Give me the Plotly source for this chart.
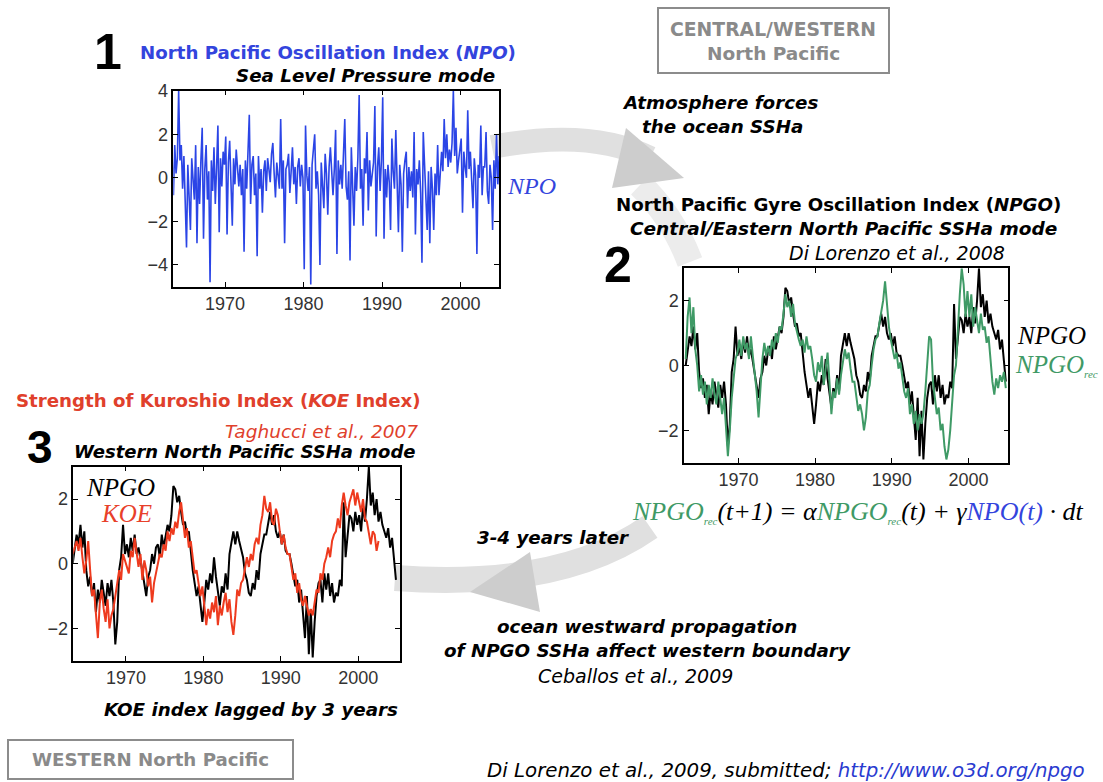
import plotly.graph_objects as go

W, H = 1103, 782

# ---------------- data ----------------
START_YEAR = 1963
NPO_STEPS = [1 / 12, 3 / 12, 5 / 12, 7 / 12, 9 / 12, 11 / 12]   # bi-monthly samples
QUARTERS = [0.125, 0.375, 0.625, 0.875]                         # quarterly samples

NPO = [
    0.3, 1.0, -0.8, 1.5, 0.2, 0.9,      # 1963
    4.0, 0.8, 1.5, -0.5, 1.0, -0.9,     # 1964
    -3.2, 0.6, -0.8, -2.4, 0.9, -0.3,   # 1965
    -1.0, 1.5, -3.0, 0.5, -1.2, 0.8,    # 1966
    2.3, -2.8, 0.4, 1.5, -1.0, 0.3,     # 1967
    -4.8, 0.8, -0.6, 1.4, -1.2, 0.5,    # 1968
    2.4, -2.5, 0.9, -0.4, 1.2, 0.6,     # 1969
    1.9, -2.6, 0.7, 1.7, -0.5, -2.2,    # 1970
    0.9, -0.3, 1.3, 0.2, -0.4, 0.6,     # 1971
    -0.8, 0.4, -3.4, 0.8, -0.5, 1.2,    # 1972
    2.9, -1.2, 0.6, 1.0, -0.8, 0.2,     # 1973
    -3.6, 1.0, -0.5, 0.4, -1.6, 0.3,    # 1974
    0.8, -0.6, 0.9, 0.4, -0.2, 1.1,     # 1975
    1.6, 0.2, -0.9, 0.7, 0.1, -0.5,     # 1976
    2.7, -0.5, 0.8, -3.0, 0.4, 0.6,     # 1977
    1.1, -0.7, 0.3, 1.4, -0.3, 0.5,     # 1978
    -1.2, 0.5, 0.9, -0.4, 0.6, 0.0,     # 1979
    -4.2, 2.4, 0.1, -0.6, 0.5, -4.9,    # 1980
    0.6, 1.2, 2.0, -0.5, 0.3, -0.8,     # 1981
    -4.0, 0.7, -0.2, -1.4, 1.1, 0.2,    # 1982
    -1.7, 0.5, 1.4, 0.2, -0.8, 0.4,     # 1983
    2.2, -3.5, 0.8, -0.3, 0.6, -0.5,    # 1984
    1.2, 2.7, -0.4, -1.0, 0.3, -3.8,    # 1985
    1.4, -0.2, -2.2, 0.5, -0.6, 0.9,    # 1986
    3.8, -0.5, 0.4, -2.2, 0.9, 0.2,     # 1987
    2.1, -1.5, 0.8, -0.4, 0.3, 0.7,     # 1988
    3.3, -2.7, 0.5, 1.4, -0.6, 0.8,     # 1989
    3.7, -2.8, 0.4, -0.9, 0.6, -0.2,    # 1990
    -2.4, 1.8, 0.3, -0.5, 2.2, -0.4,    # 1991
    -2.5, 0.6, -0.3, -3.4, 0.2, 0.8,    # 1992
    1.2, -1.4, 0.5, -0.6, 0.3, -0.9,    # 1993
    2.1, -2.6, 0.4, -0.3, 0.8, -0.7,    # 1994
    -3.9, 2.1, 0.8, -0.4, -2.4, 0.3,    # 1995
    -3.0, 0.5, -0.5, -2.4, 0.2, -0.8,   # 1996
    1.5, -0.8, 0.6, 1.2, 0.3, 2.7,      # 1997
    0.9, 2.0, 0.5, 1.3, 0.7, 1.6,       # 1998
    4.0, 1.0, 2.3, 0.2, 0.8, 1.5,       # 1999
    1.8, -1.6, 1.2, 0.5, 0.0, 3.1,      # 2000
    0.4, 1.2, -0.3, -1.4, 0.9, 0.1,     # 2001
    -3.5, 0.6, 0.0, 2.4, -0.8, 0.5,     # 2002
    0.5, 2.1, -0.6, -1.2, 0.6, 0.0,     # 2003
    -2.4, 0.8, -0.5, 2.0, -0.3, 1.0,    # 2004
]

NPGO = [
    0.0, 0.4, 0.9, 0.6,      # 1963
    1.2, 0.5, 1.0, -0.2,     # 1964
    -0.7, -0.4, -1.0, -0.6,  # 1965
    -1.5, -0.8, -1.2, -0.5,  # 1966
    -0.9, -1.3, -0.6, -1.0,  # 1967
    -0.5, -1.2, -2.5, -1.8,  # 1968
    -0.2, 0.2, 1.2, 0.3,     # 1969
    0.6, 0.2, 0.8, 0.4,      # 1970
    0.9, 0.3, 0.5, 0.1,      # 1971
    -0.3, -0.6, -1.0, -0.4,  # 1972
    -0.2, 0.3, 0.0, 0.5,     # 1973
    0.6, 0.2, 0.9, 0.5,      # 1974
    0.8, 1.2, 1.0, 1.5,      # 1975
    2.4, 2.3, 1.9, 2.1,      # 1976
    1.6, 1.2, 1.3, 0.9,      # 1977
    1.0, 0.3, -0.2, -0.6,    # 1978
    -1.0, -0.7, -1.3, -1.8,  # 1979
    -1.2, -0.5, -0.8, -0.3,  # 1980
    -0.6, 0.2, -0.4, -0.9,   # 1981
    -1.3, -0.7, -0.9, -0.3,  # 1982
    -0.8, 0.3, 0.6, 1.0,     # 1983
    0.6, 1.0, 0.7, 0.4,      # 1984
    0.2, -0.3, -0.5, -0.9,   # 1985
    -1.0, -0.6, -0.8, -0.2,  # 1986
    -0.5, 0.3, 0.6, 0.9,     # 1987
    0.9, 1.3, 1.6, 1.2,      # 1988
    1.5, 1.0, 0.8, 1.0,      # 1989
    0.6, 0.9, 0.4, 0.3,      # 1990
    0.3, 0.0, -0.3, -0.7,    # 1991
    -0.5, -1.2, -0.8, -1.5,  # 1992
    -2.3, -1.0, -2.8, -1.4,  # 1993
    -2.9, -1.8, -1.0, -0.6,  # 1994
    -0.5, -1.2, -0.3, -0.8,  # 1995
    -0.3, -1.0, -0.6, -1.2,  # 1996
    -0.9, -1.0, -0.5, -0.7,  # 1997
    1.9, 0.2, 1.0, 1.5,      # 1998
    1.4, 1.0, 1.6, 1.2,      # 1999
    1.5, 1.0, 1.8, 1.3,      # 2000
    2.0, 3.0, 1.8, 2.2,      # 2001
    1.5, 2.0, 1.3, 1.6,      # 2002
    1.2, 1.0, 0.8, 1.1,      # 2003
    0.5, 0.8, 0.2, -0.5,     # 2004
]

NPGO_REC = [
    0.2, 1.5, 2.1, 1.0,      # 1963
    1.8, 0.5, 0.0, -0.8,     # 1964
    -0.3, -0.9, -0.5, -1.2,  # 1965
    -0.6, -1.0, -0.4, -0.9,  # 1966
    -1.2, -0.5, -1.0, -1.5,  # 1967
    -1.0, -2.0, -2.8, -2.0,  # 1968
    -1.0, -0.4, 0.2, 0.4,    # 1969
    0.8, 0.3, 0.9, 0.5,      # 1970
    0.7, 0.2, 0.9, 0.3,      # 1971
    -0.2, -0.8, -1.6, -0.6,  # 1972
    0.2, 0.7, 0.3, 0.6,      # 1973
    0.3, 0.8, 0.5, 1.0,      # 1974
    0.7, 1.2, 1.1, 1.6,      # 1975
    2.2, 1.8, 2.0, 1.5,      # 1976
    1.9, 1.3, 1.0, 0.8,      # 1977
    0.6, 0.8, 0.4, 0.9,      # 1978
    0.5, 0.6, 0.2, -0.3,     # 1979
    -0.5, 0.1, -0.2, 0.3,    # 1980
    -0.6, -0.1, 0.4, -0.5,   # 1981
    -1.5, -0.8, -1.0, -0.4,  # 1982
    -0.9, -0.3, 0.1, 0.5,    # 1983
    0.2, 0.4, -0.1, -0.5,    # 1984
    -0.5, -1.0, -1.4, -1.2,  # 1985
    -1.5, -2.0, -1.6, -0.8,  # 1986
    -0.6, 0.0, 0.5, 0.8,     # 1987
    0.9, 1.3, 1.6, 2.0,      # 1988
    2.6, 1.8, 1.2, 0.8,      # 1989
    0.5, 0.2, 0.4, -0.1,     # 1990
    0.1, -0.4, -0.8, -1.0,   # 1991
    -0.7, -1.5, -1.2, -1.8,  # 1992
    -1.4, -2.0, -1.5, -1.8,  # 1993
    -1.5, -0.8, 0.2, 0.9,    # 1994
    0.8, -0.5, -1.0, -1.5,   # 1995
    -1.3, -2.0, -1.8, -2.5,  # 1996
    -2.9, -2.6, -2.0, -1.0,  # 1997
    -0.3, 0.0, 1.2, 2.2,     # 1998
    3.0, 2.5, 1.5, 2.3,      # 1999
    1.5, 2.2, 1.2, 1.8,      # 2000
    1.4, 1.0, 1.6, 1.1,      # 2001
    1.2, 0.7, 0.9, 0.2,      # 2002
    -0.5, -0.9, -0.4, -0.7,  # 2003
    -0.3, -0.5, -0.2, -0.7,  # 2004
]

KOE = [
    0.3, 0.5, 0.7, 0.4,      # 1963
    0.8, 0.2, -0.3, 0.1,     # 1964
    0.7, -0.2, -1.0, -0.8,   # 1965
    -1.6, -2.3, -1.2, -0.8,  # 1966
    -1.4, -1.8, -1.1, -2.0,  # 1967
    -1.6, -1.4, -1.0, -0.6,  # 1968
    -0.2, -0.5, 0.3, 0.1,    # 1969
    -0.1, -0.3, 0.4, 0.2,    # 1970
    0.8, 0.4, -0.1, 0.3,     # 1971
    -0.5, 0.1, -0.2, -0.7,   # 1972
    -0.4, -1.2, -0.6, -0.3,  # 1973
    0.0, 0.3, 0.2, 0.6,      # 1974
    0.4, 1.0, 0.7, 1.1,      # 1975
    0.9, 1.3, 1.1, 1.6,      # 1976
    1.9, 1.4, 0.8, 1.1,      # 1977
    0.5, 0.7, 0.1, -0.3,     # 1978
    -0.2, -0.6, -1.0, -0.7,  # 1979
    -1.3, -1.9, -1.4, -1.7,  # 1980
    -1.2, -1.5, -1.0, -1.9,  # 1981
    -1.3, -1.6, -1.2, -0.9,  # 1982
    -1.5, -1.1, -1.8, -2.2,  # 1983
    -1.6, -0.8, -1.0, -0.6,  # 1984
    -0.5, -0.2, 0.2, -0.1,   # 1985
    0.3, 0.1, 0.6, 0.8,      # 1986
    0.6, 1.2, 1.5, 2.1,      # 1987
    1.7, 1.6, 1.9, 1.3,      # 1988
    1.2, 1.7, 1.5, 1.0,      # 1989
    0.6, 0.9, 0.5, 0.3,      # 1990
    0.3, -0.1, -0.5, -0.3,   # 1991
    -0.9, -0.6, -1.1, -1.3,  # 1992
    -1.0, -1.3, -1.6, -1.4,  # 1993
    -1.6, -1.2, -0.8, -0.9,  # 1994
    -0.3, -0.5, 0.0, 0.2,    # 1995
    0.5, 0.2, 0.7, 0.9,      # 1996
    1.0, 1.4, 1.1, 1.8,      # 1997
    2.2, 1.8, 1.5, 1.9,      # 1998
    2.1, 2.3, 1.8, 2.2,      # 1999
    1.9, 1.6, 2.0, 1.4,      # 2000
    1.3, 0.9, 0.6, 1.0,      # 2001
    0.9, 0.4, 0.7,           # 2002
]

X_TICKS = [1970, 1980, 1990, 2000]
NPO_YTICKS = [-4, -2, 0, 2, 4]
NPGO_YTICKS = [-2, 0, 2]


def times(n, steps):
    k = len(steps)
    return [START_YEAR + i // k + steps[i % k] for i in range(n)]


# ---------------- helpers (pixel -> paper) ----------------
def px(x):
    return x / W


def py(y):
    return 1 - y / H


def pt(x, y):
    return f"{px(x):.5f},{py(y):.5f}"


SANS = "DejaVu Sans"
SERIF = "Liberation Serif"
NUM = "Liberation Sans"

BLUE_T = "#3344dd"
RED_T = "#e0402c"
GREEN = "#3f9a66"
GREY_T = "#8a8a8a"

fig = go.Figure()

fig.add_trace(go.Scatter(x=times(len(NPO), NPO_STEPS), y=NPO, mode="lines",
                         line=dict(color="#2b45e6", width=1.6),
                         xaxis="x", yaxis="y", showlegend=False))
fig.add_trace(go.Scatter(x=times(len(NPGO), QUARTERS), y=NPGO, mode="lines",
                         line=dict(color="black", width=2),
                         xaxis="x2", yaxis="y2", showlegend=False))
fig.add_trace(go.Scatter(x=times(len(NPGO_REC), QUARTERS), y=NPGO_REC, mode="lines",
                         line=dict(color=GREEN, width=2),
                         xaxis="x2", yaxis="y2", showlegend=False))
fig.add_trace(go.Scatter(x=times(len(NPGO), QUARTERS), y=NPGO, mode="lines",
                         line=dict(color="black", width=2),
                         xaxis="x3", yaxis="y3", showlegend=False))
fig.add_trace(go.Scatter(x=times(len(KOE), QUARTERS), y=KOE, mode="lines",
                         line=dict(color="#ee3a1e", width=2),
                         xaxis="x3", yaxis="y3", showlegend=False))

axis_style = dict(showline=True, linecolor="black", linewidth=1.5, mirror="allticks",
                  ticks="inside", ticklen=5, tickcolor="black", tickwidth=1,
                  showgrid=False, zeroline=False, automargin=False,
                  tickfont=dict(family=NUM, size=18, color="#333333"))

fig.update_layout(
    template="none",
    width=W, height=H,
    margin=dict(l=0, r=0, t=0, b=0, pad=0, autoexpand=False),
    paper_bgcolor="white", plot_bgcolor="white",
    xaxis=dict(domain=[px(173.3), px(499)], range=[1963.4, 2004.9],
               tickvals=X_TICKS, anchor="y", **axis_style),
    yaxis=dict(domain=[py(286.7), py(90.7)], range=[-5, 4],
               tickvals=NPO_YTICKS, anchor="x", **axis_style),
    xaxis2=dict(domain=[px(684), px(1008.3)], range=[1962.9, 2005.2],
                tickvals=X_TICKS, anchor="y2", **axis_style),
    yaxis2=dict(domain=[py(462.7), py(268.3)], range=[-3, 3],
                tickvals=NPGO_YTICKS, anchor="x2", **axis_style),
    xaxis3=dict(domain=[px(73.3), px(400)], range=[1963.2, 2005.4],
                tickvals=X_TICKS, anchor="y3", **axis_style),
    yaxis3=dict(domain=[py(660.7), py(466.7)], range=[-3, 3],
                tickvals=NPGO_YTICKS, anchor="x3", **axis_style),
)

shapes = []
# curved grey arrows (drawn below the plot areas)
shapes.append(dict(type="path", xref="paper", yref="paper", layer="below",
                   path=f"M {pt(492,147)} Q {pt(590,128)} {pt(650,158)}",
                   line=dict(color="#e0e0e0", width=24)))
shapes.append(dict(type="path", xref="paper", yref="paper", layer="below",
                   path=f"M {pt(640,185)} Q {pt(672,215)} {pt(690,262)}",
                   line=dict(color="#ececec", width=26)))
shapes.append(dict(type="path", xref="paper", yref="paper", layer="below",
                   path=f"M {pt(626,128)} L {pt(684,178)} L {pt(612,188)} Z",
                   fillcolor="#cdcdcd", line=dict(width=0)))

shapes.append(dict(type="path", xref="paper", yref="paper", layer="below",
                   path=f"M {pt(650,527)} Q {pt(560,590)} {pt(395,578)}",
                   line=dict(color="#e0e0e0", width=26)))
shapes.append(dict(type="path", xref="paper", yref="paper", layer="below",
                   path=f"M {pt(530,552)} L {pt(540,612)} L {pt(470,592)} Z",
                   fillcolor="#cdcdcd", line=dict(width=0)))

# grey region boxes
shapes.append(dict(type="rect", xref="paper", yref="paper",
                   x0=px(658), x1=px(889), y0=py(73), y1=py(8),
                   line=dict(color="#8c8c8c", width=2)))
shapes.append(dict(type="rect", xref="paper", yref="paper",
                   x0=px(8), x1=px(293), y0=py(779), y1=py(740),
                   line=dict(color="#8c8c8c", width=2)))

annotations = []


def txt(text, x, y, size, color="black", family=SANS, xanchor="center"):
    annotations.append(dict(text=text, x=px(x), y=py(y), xref="paper", yref="paper",
                            xanchor=xanchor, yanchor="middle", showarrow=False,
                            font=dict(family=family, size=size, color=color)))


BI = 18.3   # bold-italic caption size
IT = 19     # plain italic citation size
SUB = "<span style='font-size:11px'>rec</span>"

# panel 1
txt("<b>1</b>", 108, 52, 50, family=NUM)
txt("<b>North Pacific Oscillation Index (<i>NPO</i>)</b>", 328, 52, 18.2, color=BLUE_T)
txt("<b><i>Sea Level Pressure mode</i></b>", 497, 75, BI, xanchor="right")
txt("<i>NPO</i>", 505, 186, 24, color=BLUE_T, family=SERIF, xanchor="left")

# central/western box and forcing text
txt("<b>CENTRAL/WESTERN</b>", 773, 30, 18.8, color=GREY_T)
txt("<b>North Pacific</b>", 773, 53, 18.5, color=GREY_T)
txt("<b><i>Atmosphere forces</i></b>", 720, 103, BI)
txt("<b><i>the ocean SSHa</i></b>", 722, 126, BI)

# panel 2
txt("<b>North Pacific Gyre Oscillation Index (<i>NPGO</i>)</b>", 838, 204, 18.2)
txt("<b><i>Central/Eastern North Pacific SSHa mode</i></b>", 843, 228, 18.5)
txt("<b>2</b>", 618, 265, 50, family=NUM)
txt("<i>Di Lorenzo et al., 2008</i>", 1007, 253, IT, xanchor="right")
txt("<i>NPGO</i>", 1015, 335, 25, family=SERIF, xanchor="left")
txt(f"<i>NPGO<sub>{SUB}</sub></i>", 1013, 366, 25, color=GREEN, family=SERIF, xanchor="left")
txt(f"<i><span style='color:{GREEN}'>NPGO<sub>{SUB}</sub></span>(t+1) = α"
    f"<span style='color:{GREEN}'>NPGO<sub>{SUB}</sub></span>(t) + γ"
    f"<span style='color:{BLUE_T}'>NPO(t)</span> · dt</i>",
    858, 512, 26, family=SERIF)

# propagation text
txt("<b><i>3-4 years later</i></b>", 553, 537, BI)
txt("<b><i>ocean westward propagation</i></b>", 647, 626, BI)
txt("<b><i>of NPGO SSHa affect western boundary</i></b>", 647, 650, BI)
txt("<i>Ceballos et al., 2009</i>", 635, 676, IT)
txt("<i>Di Lorenzo et al., 2009, submitted; <span style='color:#2a3bd0'>http://www.o3d.org/npgo</span></i>",
    1087, 770, 19.8, xanchor="right")

# panel 3
txt("<b>3</b>", 40, 447, 46, family=NUM)
txt("<b>Strength of Kuroshio Index (<i>KOE</i> Index)</b>", 218, 400, 18.2, color=RED_T)
txt("<i>Taghucci et al., 2007</i>", 420, 431, 18.5, color=RED_T, xanchor="right")
txt("<b><i>Western North Pacific SSHa mode</i></b>", 245, 451, 18)
txt("<i>NPGO</i>", 84, 487, 25, family=SERIF, xanchor="left")
txt("<i>KOE</i>", 99, 513, 25, color="#e8402a", family=SERIF, xanchor="left")
txt("<b><i>KOE index lagged by 3 years</i></b>", 251, 709, BI)
txt("<b>WESTERN North Pacific</b>", 150, 759, 18.2, color=GREY_T)

fig.update_layout(shapes=shapes, annotations=annotations)

fig.write_html(
    "out.html",
    config={"displayModeBar": False},
    post_script=(
        "document.documentElement.style.margin='0';"
        "document.body.style.margin='0';document.body.style.padding='0';"
        "document.body.style.overflow='hidden';"
        "var g=document.querySelector('.plotly-graph-div');"
        "g.style.position='absolute';g.style.top='0px';g.style.left='0px';"
    ),
)
